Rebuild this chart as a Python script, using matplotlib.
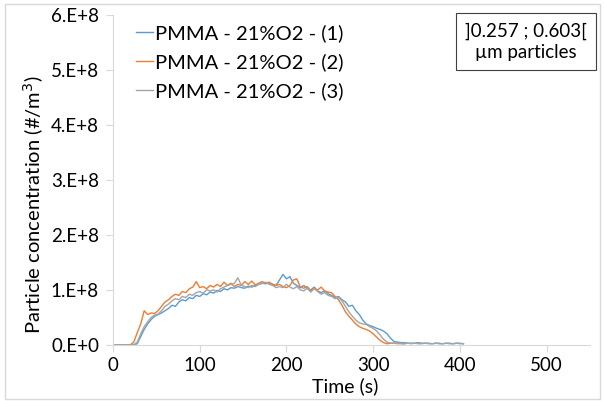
import numpy as np
import matplotlib
matplotlib.use('Agg')
import matplotlib.pyplot as plt
from matplotlib.patches import Rectangle

plt.rcParams['font.family'] = ['Lato', 'DejaVu Sans']

# -------------------------------------------------
# data (x1e8 #/m3), one sample every 4 s
# -------------------------------------------------
dt = 4
run1 = [0, 0, 0, 0, 0, 0, 0, 0.02, 0.15, 0.28, 0.38, 0.46, 0.52, 0.55, 0.58, 0.62,
        0.66, 0.72, 0.70, 0.78, 0.82, 0.80, 0.86, 0.84, 0.90, 0.88, 0.93, 0.91, 0.96,
        0.94, 0.99, 0.97, 1.02, 1.00, 1.04, 1.03, 1.06, 1.04, 1.03, 1.07, 1.05, 1.08,
        1.10, 1.12, 1.11, 1.13, 1.10, 1.08, 1.18, 1.28, 1.20, 1.24, 1.12, 1.08, 1.04,
        1.08, 1.02, 1.00, 1.05, 0.98, 0.95, 0.98, 0.93, 0.90, 0.86, 0.88, 0.82, 0.78,
        0.70, 0.72, 0.62, 0.55, 0.45, 0.38, 0.35, 0.33, 0.30, 0.28, 0.25, 0.20, 0.12,
        0.06, 0.05, 0.04, 0.04, 0.03, 0.03, 0.03, 0.04, 0.03, 0.03, 0.03, 0.02, 0.03,
        0.03, 0.02, 0.03, 0.03, 0.02, 0.03, 0.03, 0.02]
run2 = [0, 0, 0, 0, 0, 0, 0.05, 0.22, 0.38, 0.62, 0.55, 0.58, 0.57, 0.62, 0.70, 0.78,
        0.82, 0.88, 0.92, 0.90, 0.97, 0.95, 1.02, 1.05, 1.15, 1.04, 1.06, 1.02, 1.08,
        1.05, 1.10, 1.06, 1.14, 1.08, 1.12, 1.06, 1.10, 1.08, 1.15, 1.10, 1.16, 1.09,
        1.12, 1.15, 1.12, 1.14, 1.10, 1.08, 1.10, 1.06, 1.04, 1.08, 1.18, 1.20, 1.05,
        1.03, 1.06, 0.98, 1.02, 1.00, 1.05, 0.98, 0.96, 0.95, 0.88, 0.82, 0.72, 0.60,
        0.52, 0.45, 0.38, 0.33, 0.30, 0.28, 0.25, 0.20, 0.14, 0.08, 0.04, 0.02, 0.03,
        0.03, 0.03, 0.02, 0.02]
run3 = [0, 0, 0, 0, 0, 0, 0, 0.05, 0.20, 0.33, 0.42, 0.50, 0.54, 0.56, 0.62, 0.70,
        0.74, 0.80, 0.84, 0.82, 0.88, 0.86, 0.92, 0.90, 0.95, 0.97, 0.94, 1.00, 0.98,
        1.00, 0.96, 1.02, 1.05, 1.08, 1.10, 1.12, 1.22, 1.08, 1.06, 1.04, 1.08, 1.06,
        1.10, 1.12, 1.14, 1.10, 1.08, 1.04, 1.06, 1.04, 1.10, 1.05, 1.02, 1.06, 1.00,
        0.98, 1.03, 0.96, 1.02, 0.97, 0.92, 0.95, 0.90, 0.88, 0.84, 0.86, 0.80, 0.70,
        0.60, 0.52, 0.45, 0.40, 0.38, 0.37, 0.33, 0.30, 0.25, 0.18, 0.10, 0.05, 0.03,
        0.03, 0.02, 0.03, 0.02, 0.03, 0.02, 0.03, 0.02, 0.02, 0.03, 0.02, 0.02, 0.03,
        0.02, 0.02, 0.03, 0.02, 0.02, 0.03, 0.02, 0.02]

labels = ['PMMA - 21%O2 - (1)', 'PMMA - 21%O2 - (2)', 'PMMA - 21%O2 - (3)']
colors = ['#5B9BD5', '#ED7D31', '#A5A5A5']
yticks = [0, 1e8, 2e8, 3e8, 4e8, 5e8, 6e8]
ytick_labels = ['0.E+0', '1.E+8', '2.E+8', '3.E+8', '4.E+8', '5.E+8', '6.E+8']

# -------------------------------------------------
# plot
# -------------------------------------------------
fig = plt.figure(figsize=(6.04, 4.01), dpi=100)
ax = fig.add_axes([0.187, 0.140, 0.790, 0.823])

for vals, lab, col in zip([run1, run2, run3], labels, colors):
    t = np.arange(len(vals)) * dt
    ax.plot(t, np.array(vals) * 1e8, color=col, lw=1.0, label=lab)

ax.set_xlim(0, 550)
ax.set_ylim(0, 6e8)
ax.set_xticks([0, 100, 200, 300, 400, 500])
ax.set_yticks(yticks)
ax.set_yticklabels(ytick_labels)
ax.tick_params(labelsize=13.5, colors='#D9D9D9', labelcolor='black', length=5)
ax.tick_params(axis='y', pad=5)
ax.tick_params(axis='x', pad=4)

for s in ['top', 'right']:
    ax.spines[s].set_visible(False)
for s in ['left', 'bottom']:
    ax.spines[s].set_color('#D9D9D9')

ax.set_xlabel('Time (s)', fontsize=14)
ax.xaxis.set_label_coords(0.486, -0.097)
ax.set_ylabel('Particle concentration (#/m$^3$)', fontsize=14.5)
ax.yaxis.set_label_coords(-0.14, 0.425)

ax.legend(loc='upper left', bbox_to_anchor=(0.031, 0.997), frameon=False,
          fontsize=14.5, handlelength=0.85, handletextpad=0.1, labelspacing=0.55,
          borderaxespad=0)

fig.text(0.871, 0.896, ']0.257 ; 0.603[\nµm particles', ha='center', va='center',
         fontsize=13.5, linespacing=1.3,
         bbox=dict(boxstyle='square,pad=0.5', fc='white', ec='#404040', lw=0.8))

fig.patches.append(Rectangle((0.008, 0.005), 0.985, 0.985, transform=fig.transFigure,
                             fill=False, ec='#D9D9D9', lw=1.0))

fig.savefig('out.png', dpi=100)
